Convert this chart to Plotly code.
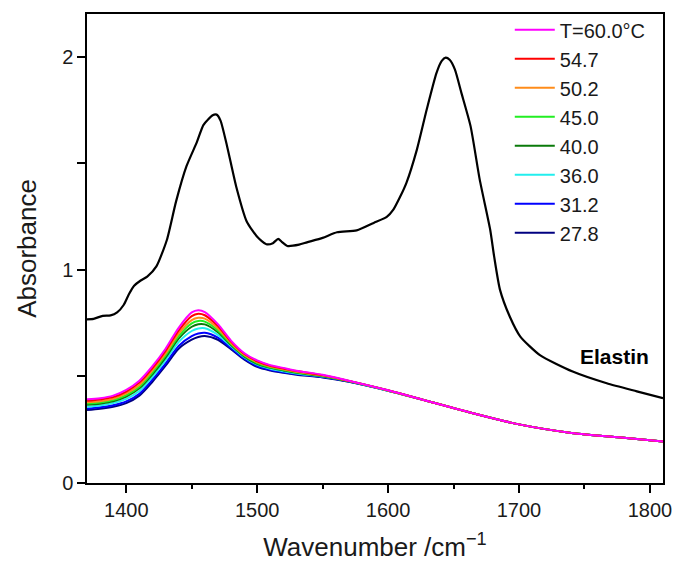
import plotly.graph_objects as go

# ---------------- data ----------------
wavenumber = [1370, 1380, 1390, 1400, 1410, 1420, 1430, 1440, 1450, 1455, 1460,
              1470, 1480, 1490, 1500, 1510, 1520, 1530, 1550, 1570, 1600, 1630,
              1660, 1700, 1740, 1780, 1810]

abs_60_0 = [0.393, 0.398, 0.410, 0.437, 0.480, 0.548, 0.630, 0.728, 0.800, 0.810, 0.802,
            0.745, 0.668, 0.610, 0.575, 0.553, 0.540, 0.527, 0.508, 0.480, 0.435, 0.385,
            0.335, 0.275, 0.235, 0.212, 0.195]
abs_54_7 = [0.386, 0.392, 0.403, 0.429, 0.471, 0.539, 0.620, 0.715, 0.783, 0.794, 0.787,
            0.736, 0.663, 0.606, 0.571, 0.550, 0.537, 0.525, 0.506, 0.479, 0.435, 0.385,
            0.335, 0.275, 0.235, 0.212, 0.195]
abs_50_2 = [0.379, 0.384, 0.395, 0.420, 0.460, 0.528, 0.608, 0.701, 0.764, 0.775, 0.771,
            0.725, 0.657, 0.602, 0.567, 0.546, 0.534, 0.522, 0.504, 0.479, 0.434, 0.385,
            0.335, 0.275, 0.235, 0.212, 0.195]
abs_45_0 = [0.373, 0.378, 0.389, 0.412, 0.452, 0.519, 0.598, 0.689, 0.749, 0.760, 0.757,
            0.716, 0.652, 0.598, 0.563, 0.543, 0.531, 0.519, 0.503, 0.478, 0.434, 0.385,
            0.335, 0.275, 0.235, 0.212, 0.195]
abs_40_0 = [0.367, 0.372, 0.383, 0.405, 0.444, 0.510, 0.588, 0.677, 0.733, 0.745, 0.744,
            0.707, 0.647, 0.594, 0.559, 0.540, 0.528, 0.517, 0.501, 0.477, 0.434, 0.385,
            0.335, 0.275, 0.235, 0.212, 0.195]
abs_36_0 = [0.358, 0.364, 0.375, 0.395, 0.432, 0.498, 0.576, 0.661, 0.713, 0.725, 0.726,
            0.695, 0.641, 0.590, 0.555, 0.536, 0.524, 0.514, 0.499, 0.477, 0.433, 0.385,
            0.335, 0.275, 0.235, 0.212, 0.195]
abs_31_2 = [0.349, 0.355, 0.365, 0.383, 0.419, 0.485, 0.560, 0.643, 0.689, 0.701, 0.705,
            0.682, 0.633, 0.584, 0.549, 0.531, 0.520, 0.511, 0.497, 0.476, 0.433, 0.385,
            0.335, 0.275, 0.235, 0.212, 0.195]
abs_27_8 = [0.342, 0.348, 0.358, 0.375, 0.410, 0.475, 0.550, 0.630, 0.672, 0.685, 0.690,
            0.672, 0.628, 0.580, 0.545, 0.528, 0.517, 0.508, 0.495, 0.475, 0.433, 0.385,
            0.335, 0.275, 0.235, 0.212, 0.195]

temp_labels = ["T=60.0°C", "54.7", "50.2", "45.0", "40.0", "36.0", "31.2", "27.8"]
temp_series = [abs_60_0, abs_54_7, abs_50_2, abs_45_0, abs_40_0, abs_36_0, abs_31_2, abs_27_8]
temp_colors = ["#FF00FF", "#FF0000", "#FF8C1A", "#22EE22", "#0A7A0A", "#22EEEE", "#0000FF", "#000080"]

elastin_x = [1370, 1375, 1382, 1388, 1393, 1398, 1402, 1406, 1411, 1416, 1423, 1431, 1438, 1446,
             1454, 1459, 1466, 1469, 1472, 1477, 1484, 1492, 1500, 1507, 1512, 1516, 1519,
             1523, 1532, 1538, 1550, 1561, 1576, 1589, 1599, 1604, 1609, 1614, 1622, 1629.5,
             1637, 1641, 1644, 1647, 1651, 1656, 1663, 1670, 1678, 1681, 1685.5, 1693, 1701,
             1716, 1741, 1767, 1790, 1810]
elastin_y = [0.768, 0.770, 0.784, 0.786, 0.800, 0.835, 0.885, 0.925, 0.950, 0.968, 1.016, 1.140, 1.320, 1.486,
             1.600, 1.680, 1.725, 1.728, 1.700, 1.580, 1.390, 1.227, 1.155, 1.120, 1.125, 1.145, 1.130,
             1.112, 1.118, 1.129, 1.150, 1.176, 1.185, 1.220, 1.248, 1.282, 1.340, 1.408, 1.564, 1.752,
             1.924, 1.980, 1.995, 1.985, 1.940, 1.830, 1.674, 1.423, 1.188, 1.063, 0.906, 0.780, 0.687,
             0.600, 0.523, 0.468, 0.430, 0.398]

FONT = "Liberation Sans, Arial, sans-serif"

fig = go.Figure()

fig.add_trace(go.Scatter(x=elastin_x, y=elastin_y, mode="lines", showlegend=False,
                         line=dict(color="black", width=2.2, shape="spline", smoothing=0.6)))

# draw lowest temperature first so the 60 °C curve lies on top
for lab, ys, col in reversed(list(zip(temp_labels, temp_series, temp_colors))):
    fig.add_trace(go.Scatter(x=wavenumber, y=ys, mode="lines", name=lab,
                             line=dict(color=col, width=2, shape="spline", smoothing=0.8)))

fig.add_annotation(x=1773, y=0.593, text="<b>Elastin</b>", showarrow=False,
                   font=dict(family=FONT, size=21, color="black"))

fig.update_layout(
    width=676, height=564,
    margin=dict(l=87, r=13, t=14, b=81, autoexpand=False),
    paper_bgcolor="white", plot_bgcolor="white",
    font=dict(family=FONT, color="#1a1a1a"),
    legend=dict(x=0.734, y=1.008, xanchor="left", yanchor="top", traceorder="reversed",
                font=dict(family=FONT, size=20, color="#1a1a1a"),
                bgcolor="rgba(0,0,0,0)", tracegroupgap=0, itemwidth=40),
    xaxis=dict(range=[1370, 1810], dtick=100, showgrid=False, zeroline=False,
               showline=True, linecolor="black", linewidth=1.5, mirror=True,
               ticks="outside", ticklen=8, tickwidth=1.5, tickcolor="black",
               minor=dict(dtick=50, ticks="outside", ticklen=4, tickwidth=1.5, tickcolor="black"),
               tickfont=dict(family=FONT, size=20, color="#1a1a1a"),
               title=dict(text="Wavenumber /cm<sup>\u22121</sup>", standoff=18,
                          font=dict(family=FONT, size=26, color="#1a1a1a"))),
    yaxis=dict(range=[0, 2.2], dtick=1, showgrid=False, zeroline=False,
               showline=True, linecolor="black", linewidth=1.5, mirror=True,
               ticks="outside", ticklen=8, tickwidth=1.5, tickcolor="black",
               minor=dict(dtick=0.5, ticks="outside", ticklen=8, tickwidth=1.5, tickcolor="black"),
               tickfont=dict(family=FONT, size=20, color="#1a1a1a"),
               title=dict(text="Absorbance", standoff=18,
                          font=dict(family=FONT, size=26, color="#1a1a1a"))),
)

fig.write_html("out.html")
